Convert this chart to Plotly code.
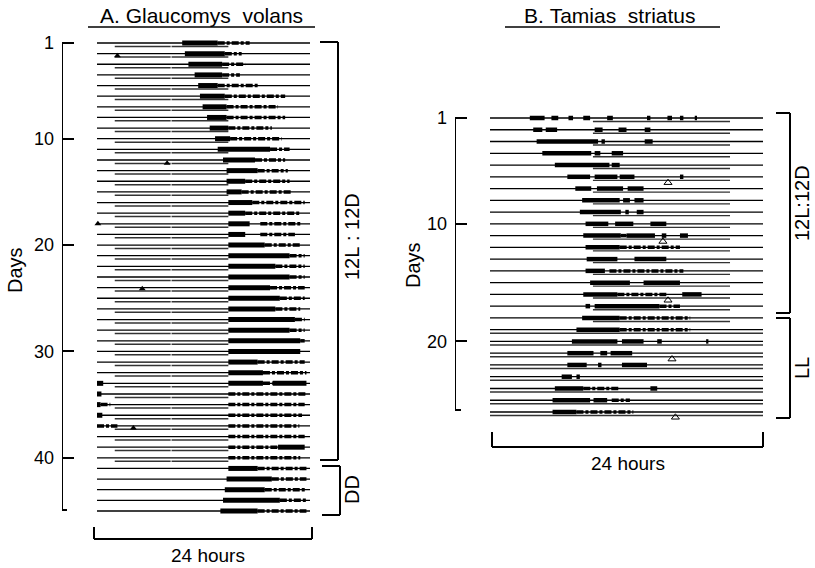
import plotly.graph_objects as go

W, H = 815, 568
FONT = "Liberation Sans, Arial, sans-serif"

# ---------------- A. Glaucomys volans ----------------
A_DAYS = list(range(1, 46))          # days 1-40 in 12L:12D, 41-45 in DD
A_LD_DAYS = list(range(1, 41))
A_LIGHT = [(2.0, 8.3), (8.4, 14.8)]  # light phase (h) drawn under each LD record
A_TICKS = [1, 10, 20, 30, 40]

# running activity (hours): dense blocks
A_SOLID = [
    [(9.6, 13.6)], [(9.9, 14.4)], [(10.3, 14.1)], [(11.0, 14.1)], [(11.4, 13.6)],
    [(11.6, 14.4)], [(11.9, 14.6)], [(12.4, 14.6)], [(12.7, 14.8)], [(13.3, 15.0)],
    [(13.6, 19.5)], [(14.2, 17.8)], [(14.6, 18.1)], [(14.6, 16.7)], [(14.6, 16.3)],
    [(14.8, 17.5)], [(14.8, 16.7)], [(14.8, 17.2)], [(14.8, 16.7)], [(14.8, 18.9)],
    [(14.8, 21.7)], [(14.8, 20.1)], [(14.8, 21.7)], [(14.8, 19.5)], [(14.8, 20.6)],
    [(14.8, 20.1)], [(14.8, 22.3)], [(14.8, 21.7)], [(14.8, 22.9)], [(14.8, 22.9)],
    [(14.8, 18.1)], [(14.8, 18.7)], [(0.0, 0.7), (14.8, 18.7), (19.8, 23.6)],
    [(0.0, 0.5)], [(0.0, 0.4)], [(0.0, 0.6)], [], [], [(20.4, 23.4)], [],
    [(14.8, 18.1)], [(14.6, 19.7)], [(14.4, 18.9)], [(14.2, 20.6)], [(13.9, 18.1)],
]
# running activity (hours): scattered bouts
A_SPARSE = [
    [(13.6, 17.2)], [(14.4, 16.3)], [(14.1, 16.7)], [(14.1, 16.1)], [(13.6, 18.1)],
    [(14.4, 21.2)], [(14.6, 20.4)], [(14.6, 21.2)], [(14.8, 19.7)], [(15.0, 20.8)],
    [(19.5, 21.7)], [(17.8, 21.2)], [(18.1, 21.5)], [(16.7, 21.7)], [(16.3, 22.0)],
    [(17.5, 23.4)], [(16.7, 22.9)], [(18.4, 22.9)], [(18.4, 22.3)], [(18.9, 22.9)],
    [(21.7, 23.4)], [(20.1, 23.4)], [(21.7, 23.4)], [(19.5, 23.4)], [(20.6, 23.4)],
    [(20.1, 22.9)], [(22.3, 23.4)], [(21.7, 23.4)], [(22.9, 23.4)], [],
    [(18.1, 23.4)], [(18.7, 23.6)], [(18.7, 19.8)],
    [(14.8, 23.6)], [(0.4, 1.5), (14.8, 23.4)], [(14.8, 23.1)],
    [(0.0, 2.3), (14.8, 22.8)], [(14.8, 23.4)], [(14.8, 20.4)], [(14.8, 22.9)],
    [(18.1, 23.6)], [(19.7, 23.6)], [(18.9, 23.6)], [(20.6, 23.6)], [(18.1, 23.6)],
]
A_MARK_DAY = [2.2, 12.3, 18.0, 24.1, 37.2]
A_MARK_HOUR = [2.3, 7.9, 0.1, 5.1, 4.1]

# ---------------- B. Tamias striatus ----------------
B_DAYS = list(range(1, 27))          # days 1-18 in 12L:12D, 19-26 in LL
B_LD_DAYS = list(range(1, 19))
B_LL_DAYS = list(range(19, 27))
B_LIGHT = [(9.05, 21.1)]
B_TICKS = [1, 10, 20]

B_SOLID = [
    [(3.5, 4.8), (5.4, 6.0), (6.9, 7.3), (8.2, 8.8), (10.3, 10.8), (13.8, 14.1),
     (15.6, 16.0), (16.7, 17.0), (18.0, 18.2)],
    [(3.8, 4.6), (4.9, 5.9), (9.2, 9.9), (11.3, 12.0), (13.6, 14.1)],
    [(4.1, 9.5), (9.8, 10.1), (13.6, 14.3)],
    [(4.6, 8.9), (9.2, 9.7), (10.7, 11.7)],
    [(5.7, 10.5), (10.7, 11.4)],
    [(6.8, 8.8), (9.2, 11.2), (11.4, 12.7), (16.7, 17.0)],
    [(7.5, 8.9), (9.4, 11.7), (12.1, 13.5)],
    [(8.1, 11.4), (11.7, 12.3), (12.7, 13.5)],
    [(7.9, 11.5), (11.9, 12.2), (12.9, 13.5)],
    [(8.4, 10.4), (11.0, 12.6), (14.1, 15.5)],
    [(8.2, 11.5), (12.0, 14.5), (15.1, 15.5), (16.7, 17.4)],
    [(8.4, 11.4)],
    [(8.5, 11.2), (12.7, 15.5)],
    [(8.4, 10.1)],
    [(8.8, 12.3), (13.5, 16.7)],
    [(8.2, 11.2), (16.9, 18.6)],
    [(8.4, 8.8), (9.2, 14.9)],
    [(8.1, 11.4)],
    [(7.6, 11.4)],
    [(7.2, 11.2), (11.6, 13.5), (14.7, 15.1), (19.0, 19.2)],
    [(6.8, 9.1), (9.7, 10.3), (10.6, 12.5)],
    [(6.8, 8.5), (9.5, 9.8), (11.6, 13.8)],
    [(6.3, 7.2), (7.6, 7.9)],
    [(5.7, 8.2), (14.1, 14.7)],
    [(5.5, 8.8), (9.1, 10.3)],
    [(5.5, 7.6)],
]
B_SPARSE = [
    [], [], [], [], [], [], [], [], [], [], [(11.5, 12.0)], [(11.4, 16.7)], [],
    [(10.5, 17.0)], [], [(11.2, 15.5)], [(14.9, 16.7)], [(11.4, 17.6)], [(11.4, 17.6)],
    [], [], [], [], [(8.2, 11.4)], [(10.7, 12.3)], [(7.6, 12.6)],
]
B_MARK_DAY = [6.5, 11.5, 16.5, 21.5, 26.45]
B_MARK_HOUR = [15.65, 15.2, 15.65, 16.0, 16.3]


def seg_xy(days, segs_per_day, dy=0.0):
    xs, ys = [], []
    for d, segs in zip(days, segs_per_day):
        for s, e in segs:
            xs += [s, e, None]
            ys += [d + dy, d + dy, None]
    return xs, ys


def line_trace(xs, ys, width, xa, ya, color="black", dash="solid"):
    return go.Scatter(x=xs, y=ys, mode="lines", xaxis=xa, yaxis=ya,
                      line=dict(color=color, width=width, dash=dash),
                      hoverinfo="skip", showlegend=False)


fig = go.Figure()

SPARSE_DASH = "7px,2px,3px,2px"

# ---- panel A traces
bx, by = seg_xy(A_DAYS, [[(0, 24)]] * len(A_DAYS))
fig.add_trace(line_trace(bx, by, 1.3, "x", "y"))
lx, ly = seg_xy(A_LD_DAYS, [A_LIGHT] * len(A_LD_DAYS), dy=0.32)
fig.add_trace(line_trace(lx, ly, 1.5, "x", "y", color="#333"))
sx, sy = seg_xy(A_DAYS, A_SOLID)
fig.add_trace(line_trace(sx, sy, 5, "x", "y"))
px, py = seg_xy(A_DAYS, A_SPARSE)
fig.add_trace(line_trace(px, py, 3.5, "x", "y", dash=SPARSE_DASH))
fig.add_trace(go.Scatter(x=A_MARK_HOUR, y=A_MARK_DAY, mode="markers", xaxis="x", yaxis="y",
                         marker=dict(symbol="triangle-up", size=6, color="black"),
                         hoverinfo="skip", showlegend=False))

# ---- panel B traces
bx, by = seg_xy(B_DAYS, [[(0, 24)]] * len(B_DAYS))
fig.add_trace(line_trace(bx, by, 1.3, "x2", "y2"))
lx, ly = seg_xy(B_LD_DAYS, [B_LIGHT] * len(B_LD_DAYS), dy=0.3)
fig.add_trace(line_trace(lx, ly, 1.4, "x2", "y2", color="#333"))
lx, ly = seg_xy(B_LL_DAYS, [[(0, 24)]] * len(B_LL_DAYS), dy=0.3)
fig.add_trace(line_trace(lx, ly, 1.4, "x2", "y2", color="#333"))
sx, sy = seg_xy(B_DAYS, B_SOLID)
fig.add_trace(line_trace(sx, sy, 4.5, "x2", "y2"))
px, py = seg_xy(B_DAYS, B_SPARSE)
fig.add_trace(line_trace(px, py, 3.5, "x2", "y2", dash=SPARSE_DASH))
fig.add_trace(go.Scatter(x=B_MARK_HOUR, y=B_MARK_DAY, mode="markers", xaxis="x2", yaxis="y2",
                         marker=dict(symbol="triangle-up-open", size=7, color="black",
                                     line=dict(width=1)),
                         hoverinfo="skip", showlegend=False))

# ---- axes: each panel maps hours -> pixels and days -> pixels
# panel A: hour 0 at 97px, 8.875 px/h; day 1 at 43px, 10.636 px/day
a_xr = [(62 - 97) / 8.875, (365 - 97) / 8.875]
a_yr = [1 + (H - 43) / 10.636, 1 + (0 - 43) / 10.636]
# panel B: hour 0 at 490px, 11.375 px/h; day 1 at 118px, 11.76 px/day
b_xr = [(455 - 490) / 11.375, (W - 490) / 11.375]
b_yr = [1 + (H - 118) / 11.76, 1 + (0 - 118) / 11.76]

yax = dict(showgrid=False, zeroline=False, showline=False, ticks="inside",
           ticklen=12, tickwidth=2, tickcolor="black",
           tickfont=dict(family=FONT, size=18, color="black"), ticklabelstandoff=7)
fig.update_layout(
    width=W, height=H, margin=dict(l=0, r=0, t=0, b=0),
    paper_bgcolor="white", plot_bgcolor="white",
    xaxis=dict(domain=[62 / W, 365 / W], range=a_xr, visible=False),
    yaxis=dict(domain=[0, 1], range=a_yr, anchor="x", tickmode="array",
               tickvals=A_TICKS, ticktext=[str(t) for t in A_TICKS], **yax),
    xaxis2=dict(domain=[455 / W, 1], range=b_xr, visible=False, anchor="y2"),
    yaxis2=dict(domain=[0, 1], range=b_yr, anchor="x2", tickmode="array",
                tickvals=B_TICKS, ticktext=[str(t) for t in B_TICKS], **yax),
)

shapes = []


def seg(xa, ya, x0, y0, x1, y1, w=2):
    shapes.append(dict(type="line", xref=xa, yref=ya, x0=x0, y0=y0, x1=x1, y1=y1,
                       line=dict(color="black", width=w)))


def pa(px):  # pixel -> hour, panel A
    return (px - 97) / 8.875


def da(py):  # pixel -> day, panel A
    return 1 + (py - 43) / 10.636


def pb(px):
    return (px - 490) / 11.375


def db(py):
    return 1 + (py - 118) / 11.76


# panel A frame: day axis, brackets, title rule
seg("x", "y", a_xr[0], da(42), a_xr[0], da(510))
seg("x", "y", pa(56), da(510), pa(67), da(510))
seg("x", "y", pa(320), da(42), pa(338), da(42))
seg("x", "y", pa(338), da(42), pa(338), da(460))
seg("x", "y", pa(320), da(460), pa(338), da(460))
seg("x", "y", pa(322), da(466), pa(340), da(466))
seg("x", "y", pa(340), da(466), pa(340), da(515))
seg("x", "y", pa(322), da(515), pa(340), da(515))
seg("x", "y", pa(94), da(527), pa(94), da(539))
seg("x", "y", pa(94), da(539), pa(312), da(539))
seg("x", "y", pa(312), da(539), pa(312), da(527))
seg("x", "y", pa(88), da(27), pa(315), da(27), w=1.5)

# panel B frame
seg("x2", "y2", b_xr[0], db(117), b_xr[0], db(410))
seg("x2", "y2", pb(449), db(410), pb(461), db(410))
seg("x2", "y2", pb(776), db(113), pb(790), db(113))
seg("x2", "y2", pb(790), db(113), pb(790), db(313))
seg("x2", "y2", pb(776), db(313), pb(790), db(313))
seg("x2", "y2", pb(776), db(318), pb(790), db(318))
seg("x2", "y2", pb(790), db(318), pb(790), db(418))
seg("x2", "y2", pb(776), db(418), pb(790), db(418))
seg("x2", "y2", pb(492), db(432), pb(492), db(447))
seg("x2", "y2", pb(492), db(447), pb(763), db(447))
seg("x2", "y2", pb(763), db(447), pb(763), db(432))
seg("x2", "y2", pb(505), db(27), pb(720), db(27), w=1.5)

fig.update_layout(shapes=shapes)

NB = "\u00a0"


def ann(text, x, y, xa, ya, size, angle=0):
    return dict(text=text, x=x, y=y, xref=xa, yref=ya, showarrow=False,
                textangle=angle, font=dict(family=FONT, size=size, color="black"),
                xanchor="center", yanchor="middle")


fig.update_layout(annotations=[
    ann("A." + NB + "Glaucomys" + NB * 2 + "volans", pa(201), da(15), "x", "y", 21),
    ann("B." + NB + "Tamias" + NB * 2 + "striatus", pb(610), db(15), "x2", "y2", 21),
    ann("Days", 15 / W, 1 - 270 / H, "paper", "paper", 20, -90),
    ann("Days", 413 / W, 1 - 265 / H, "paper", "paper", 20, -90),
    ann("12L" + NB + ":" + NB + "12D", pa(352), da(237), "x", "y", 20, -90),
    ann("DD", pa(352), da(490), "x", "y", 20, -90),
    ann("24" + NB + "hours", pa(208), da(555), "x", "y", 19),
    ann("12L:12D", pb(802), db(203), "x2", "y2", 20, -90),
    ann("LL", pb(802), db(368), "x2", "y2", 20, -90),
    ann("24" + NB + "hours", pb(628), db(463), "x2", "y2", 19),
])

fig.write_html("out.html")
